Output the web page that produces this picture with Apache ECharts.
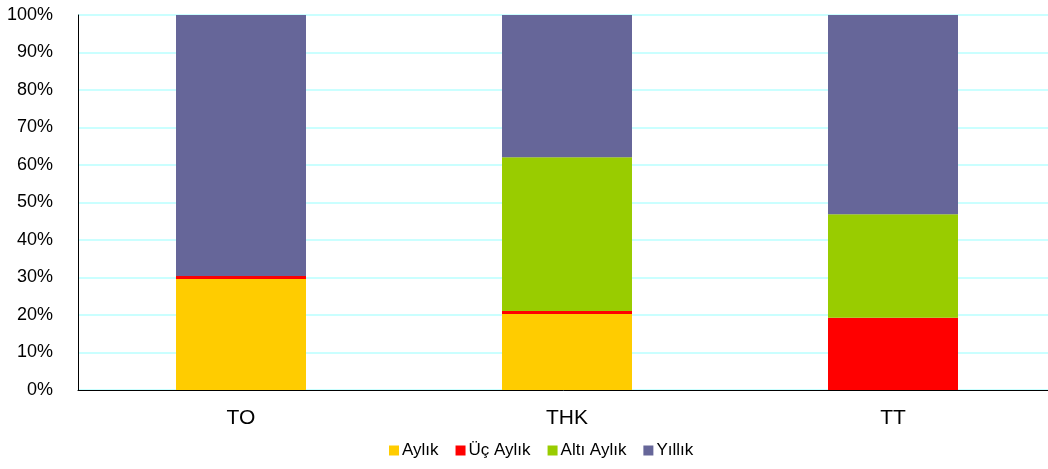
<!DOCTYPE html>
<html>
<head>
<meta charset="utf-8">
<script src="https://cdn.jsdelivr.net/npm/echarts@6/dist/echarts.min.js"></script>
<style>
html, body { margin: 0; padding: 0; background: #fff; }
#chart { width: 1048px; height: 469px; }
</style>
</head>
<body>
<div id="chart"></div>
<script>
const categories = ['TO', 'THK', 'TT']
const seriesNames = ['Aylık', 'Üç Aylık', 'Altı Aylık', 'Yıllık']
const aylik = [29.6, 20.3, 0]
const ucAylik = [0.8, 0.8, 19.3]
const altiAylik = [0, 41.0, 27.6]
const yillik = [69.6, 37.9, 53.1]
const colors = ['#ffcc00', '#ff0000', '#99cc00', '#666699']

const charts = echarts.init(document.getElementById('chart'))
const values = [aylik, ucAylik, altiAylik, yillik]
const options = {
  animation: false,
  textStyle: { fontFamily: 'Liberation Sans, Arial, sans-serif' },
  grid: {
    left: 78,
    top: 15,
    width: 978,
    height: 375,
    containLabel: false,
    outerBoundsMode: 'none'
  },
  legend: {
    data: seriesNames,
    bottom: 5,
    left: 384,
    icon: 'rect',
    itemWidth: 10,
    itemHeight: 10,
    itemGap: 17,
    textStyle: { fontSize: 17, color: '#000', padding: [0, 0, 0, -2] }
  },
  xAxis: {
    type: 'category',
    data: categories,
    axisTick: { show: false },
    axisLine: { lineStyle: { color: '#000', width: 1 } },
    axisLabel: { fontSize: 21, color: '#000', margin: 18 }
  },
  yAxis: {
    type: 'value',
    min: 0,
    max: 100,
    interval: 10,
    axisLine: { show: true, lineStyle: { color: '#000', width: 1 } },
    axisTick: { show: false },
    splitLine: { lineStyle: { color: '#b8ffff', width: 1.5 } },
    axisLabel: { fontSize: 18, color: '#000', margin: 25, formatter: '{value}%' }
  },
  series: seriesNames.map((name, i) => ({
    name: name,
    type: 'bar',
    stack: 'total',
    barWidth: 130,
    data: values[i],
    itemStyle: { color: colors[i] }
  }))
}
charts.setOption(options)
</script>
</body>
</html>
